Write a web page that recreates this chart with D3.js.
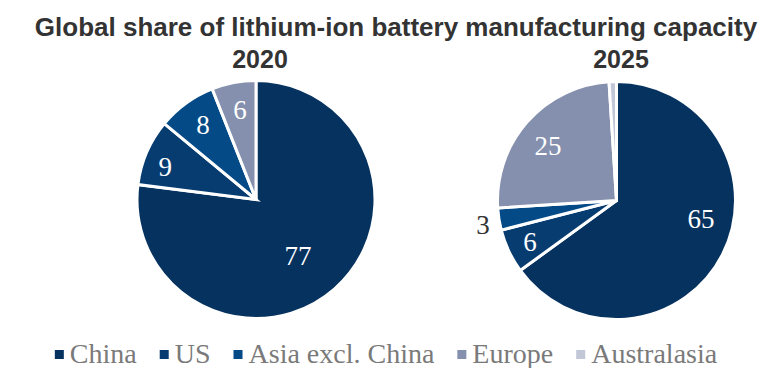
<!DOCTYPE html>
<html>
<head>
<meta charset="utf-8">
<script src="https://cdn.jsdelivr.net/npm/d3@7"></script>
<style>
  html, body { margin: 0; padding: 0; background: #fff; }
  svg { display: block; }
</style>
</head>
<body>
<svg id="chart" width="772" height="368"></svg>
<script>
// Regions, in drawing order (clockwise from 12 o'clock)
const categories = ["China", "US", "Asia excl. China", "Europe", "Australasia"];
// Share of global capacity, %
const share2020 = [77, 9, 8, 6, 0];
const share2025 = [65, 6, 3, 25, 1];
const years = ["2020", "2025"];
const titleText = "Global share of lithium-ion battery manufacturing capacity";

const colors = {
  "China": "#06325f",
  "US": "#073c71",
  "Asia excl. China": "#034a86",
  "Europe": "#8590ae",
  "Australasia": "#c1c7d7"
};

// Label placement: radius as a fraction of the pie radius, angle nudge in degrees
const labelLayout = {
  "2020": {
    "China": { r: 0.60, nudge: 4.8, inside: true },
    "US": { r: 0.82, nudge: -3.7, inside: true },
    "Asia excl. China": { r: 0.78, nudge: 0.6, inside: true },
    "Europe": { r: 0.77, nudge: 0.6, inside: true }
  },
  "2025": {
    "China": { r: 0.736, nudge: -14.7, inside: true },
    "US": { r: 0.817, nudge: -0.4, inside: true },
    "Asia excl. China": { r: 1.155, nudge: -1.4, inside: false },
    "Europe": { r: 0.745, nudge: -2.9, inside: true }
  }
};

const svg = d3.select("#chart");
const R = 119;
const pies = [
  { year: years[0], values: share2020, cx: 256, cy: 199.5, headX: 260 },
  { year: years[1], values: share2025, cx: 616.5, cy: 200.5, headX: 621 }
];

// Title and year headings
svg.append("text")
  .attr("x", 396).attr("y", 36)
  .attr("text-anchor", "middle")
  .style("font-family", "'Liberation Sans', Arial, sans-serif")
  .style("font-weight", "bold")
  .style("font-size", "26px")
  .style("fill", "#333333")
  .text(titleText);

const pieGen = d3.pie().sort(null).value(d => d.value);
const arcGen = d3.arc().innerRadius(0).outerRadius(R);

pies.forEach(p => {
  svg.append("text")
    .attr("x", p.headX).attr("y", 68)
    .attr("text-anchor", "middle")
    .style("font-family", "'Liberation Sans', Arial, sans-serif")
    .style("font-weight", "bold")
    .style("font-size", "25px")
    .style("fill", "#333333")
    .text(p.year);

  const data = categories.map((c, i) => ({ name: c, value: p.values[i] }));
  const arcs = pieGen(data).filter(a => a.data.value > 0);

  const g = svg.append("g").attr("transform", `translate(${p.cx},${p.cy})`);

  g.selectAll("path")
    .data(arcs)
    .join("path")
    .attr("d", arcGen)
    .attr("fill", d => colors[d.data.name])
    .attr("stroke", "#ffffff")
    .attr("stroke-width", 3)
    .attr("stroke-linejoin", "miter");

  const layout = labelLayout[p.year];
  const labelled = arcs.filter(a => layout[a.data.name]);
  g.selectAll("text.value")
    .data(labelled)
    .join("text")
    .attr("class", "value")
    .attr("transform", d => {
      const L = layout[d.data.name];
      const ang = (d.startAngle + d.endAngle) / 2 + L.nudge * Math.PI / 180;
      const rr = L.r * (R - 1.5);
      return `translate(${rr * Math.sin(ang)},${-rr * Math.cos(ang)})`;
    })
    .attr("text-anchor", "middle")
    .attr("dominant-baseline", "central")
    .style("font-family", "'Liberation Serif', 'Times New Roman', serif")
    .style("font-size", "27px")
    .style("fill", d => layout[d.data.name].inside ? "#ffffff" : "#333333")
    .text(d => d.data.value);
});

// Legend, centred along the bottom
const legend = svg.append("g");
const items = legend.selectAll("g.item")
  .data(categories)
  .join("g")
  .attr("class", "item");
items.append("rect")
  .attr("width", 9).attr("height", 9)
  .attr("y", -13)
  .attr("fill", d => colors[d]);
items.append("text")
  .attr("x", 15)
  .style("font-family", "'Liberation Serif', 'Times New Roman', serif")
  .style("font-size", "28px")
  .style("fill", "#7a7a7a")
  .text(d => d);

const gap = 23;
let xPos = 0;
items.each(function () {
  const w = d3.select(this).select("text").node().getComputedTextLength();
  d3.select(this).attr("transform", `translate(${xPos},0)`);
  xPos += 15 + w + gap;
});
const totalW = xPos - gap;
legend.attr("transform", `translate(${386 - totalW / 2},363)`);
</script>
</body>
</html>
